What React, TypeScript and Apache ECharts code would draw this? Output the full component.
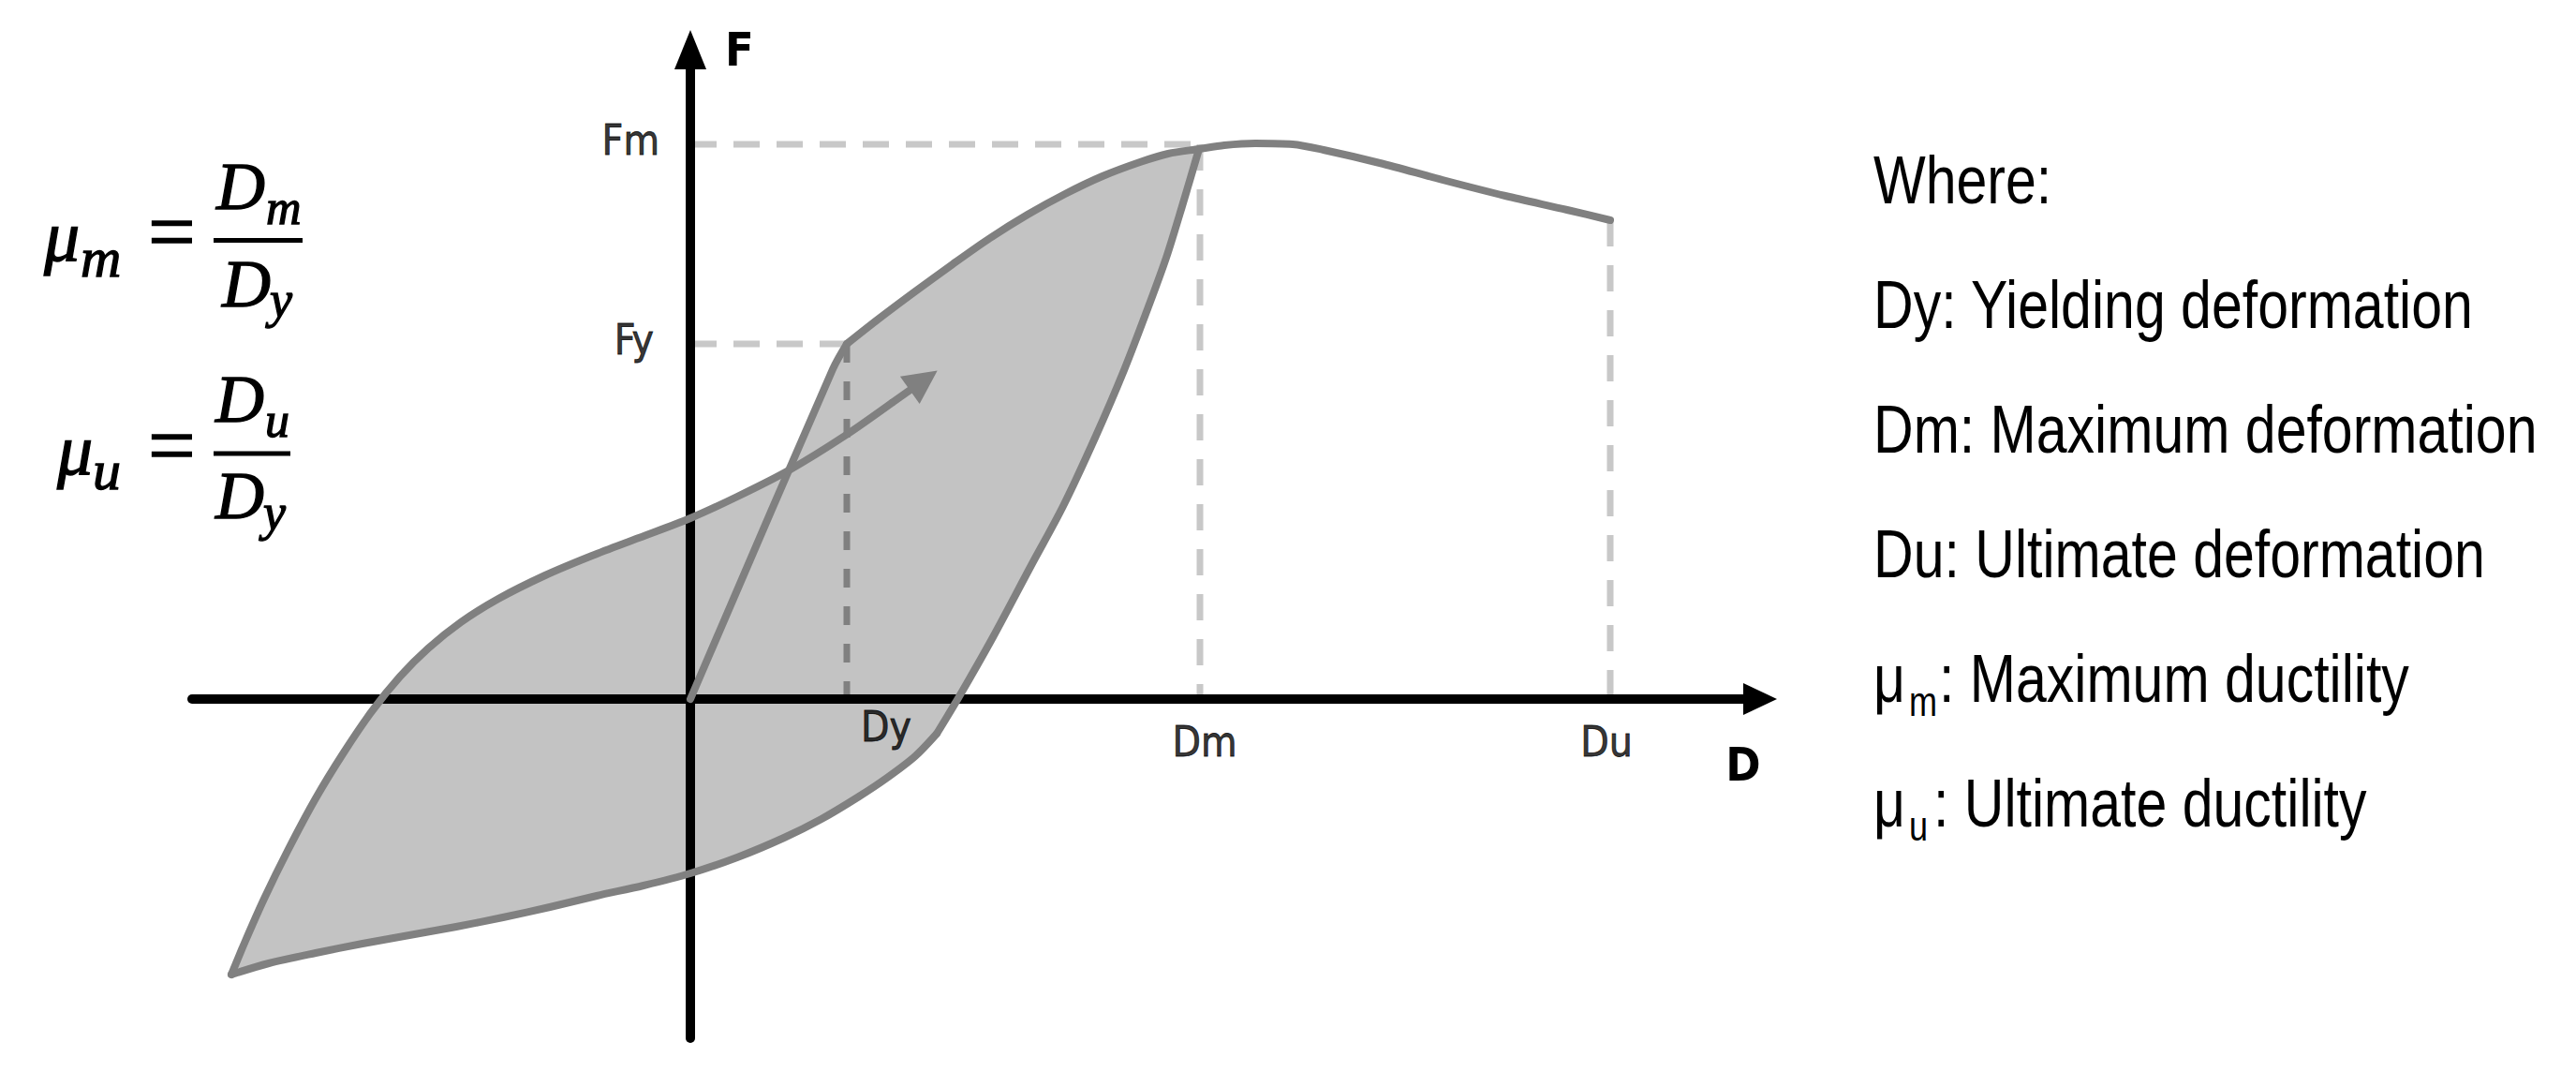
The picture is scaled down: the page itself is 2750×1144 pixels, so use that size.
import { useEffect, useRef } from 'react';
import * as echarts from 'echarts';

// ---- characteristic values (data units) ----
const Dy = 16.7;
const Dm = 54.4;
const Du = 98.2;
const Fy = 37.9;
const Fm = 59.2;

const xTickValues = [Dy, Dm, Du];
const xTickLabels = ['Dy', 'Dm', 'Du'];
const yTickValues = [Fy, Fm];
const yTickLabels = ['Fy', 'Fm'];

// ---- hysteresis curve branches [D, F] ----
const loadingBranch = [[0, 0], [15.2, 35.2], [16.7, 37.9]];
const backbone = [
  [16.7, 37.9], [20.0, 40.5], [24.0, 43.5], [28.0, 46.4], [32.0, 49.2], [36.0, 51.7],
  [40.0, 53.9], [44.0, 55.8], [48.0, 57.3], [51.0, 58.2], [54.3, 58.7], [57.0, 59.1],
  [60.3, 59.3], [64.3, 59.2], [67.6, 58.6], [73.6, 57.2], [80.3, 55.4], [87.0, 53.7],
  [93.6, 52.2], [98.2, 51.1],
];
const unloadingBranch = [
  [54.3, 58.7], [52.5, 52.6], [50.8, 47.1], [48.8, 41.6], [46.3, 35.1], [43.3, 28.1],
  [39.8, 20.6], [36.3, 14.1], [32.3, 6.6], [28.6, 0.1], [26.3, -3.7],
];
const lowerBranch = [
  [26.3, -3.7], [24.0, -6.1], [21.0, -8.4], [18.0, -10.4], [14.0, -12.8], [10.0, -14.8],
  [5.0, -16.9], [0, -18.6], [-5.0, -19.9], [-10.0, -21.0], [-15.0, -22.2], [-20.0, -23.3],
  [-25.0, -24.3], [-30.0, -25.2], [-35.0, -26.1], [-40.0, -27.1], [-45.0, -28.2], [-49.0, -29.4],
];
const reloadBranch = [
  [-49.0, -29.4], [-47.5, -25.8], [-45.5, -21.3], [-43.0, -16.2], [-40.0, -10.6], [-37.0, -5.7],
  [-34.0, -1.3], [-31.0, 2.4], [-28.0, 5.4], [-24.5, 8.2], [-20.5, 10.7], [-15.5, 13.2],
  [-10.5, 15.3], [-5.5, 17.2], [0, 19.3], [5.0, 21.6], [10.5, 24.4], [16.5, 28.1], [21.5, 31.6],
];
const arrowSegment = [[21.5, 31.6], [24.9, 34.0]];

// reference lines
const fmGuide = [[0, Fm], [Dm, Fm]];
const dmGuide = [[Dm, Fm], [Dm, 0]];
const fyGuide = [[0, Fy], [Dy, Fy]];
const dyGuide = [[Dy, Fy], [Dy, 0]];
const duGuide = [[Du, 51.1], [Du, 0]];

// legend text
const legendLines = ['Where:', 'Dy: Yielding deformation', 'Dm: Maximum deformation', 'Du: Ultimate deformation'];

const loopOutline = [
  ...reloadBranch.slice(0, 17),
  ...loadingBranch.slice(1),
  ...backbone.slice(1, 11),
  ...unloadingBranch.slice(1),
  ...lowerBranch.slice(1, -1),
];

const STROKE = '#808080';
const LIGHT = '#c8c8c8';
const NARROW = "'Liberation Sans Narrow', 'DejaVu Sans Condensed', 'Liberation Sans', sans-serif";
const SERIF = "'Liberation Serif', 'Times New Roman', serif";
const SANS = "'Liberation Sans', Arial, sans-serif";

// label placement styles (not data)
const xLabelOffsets = [[42, 0], [5, 16], [-4, 16]];
const yLabelOffsets = [[-6, -5], [0, -5]];

function mathText(text: string, x: number, y: number, size: number, italic = true) {
  return {
    type: 'text',
    x,
    y,
    z: 10,
    style: {
      text,
      fontFamily: SERIF,
      fontSize: size,
      fontStyle: italic ? 'italic' : 'normal',
      fill: '#000',
      stroke: '#000',
      lineWidth: 1.3,
      align: 'left',
      verticalAlign: 'middle',
    },
  };
}

function sansText(text: string, x: number, y: number, size: number) {
  return {
    type: 'text',
    x,
    y,
    scaleX: 0.82,
    z: 10,
    style: {
      text,
      fontFamily: SANS,
      fontSize: size,
      fill: '#000',
      align: 'left',
      verticalAlign: 'middle',
    },
  };
}

export default function App() {
  const ref = useRef<HTMLDivElement>(null);

  useEffect(() => {
    if (!ref.current) return;
    const chart = echarts.init(ref.current, undefined, { renderer: 'svg' });

    const strokeLine = (data: number[][], name: string) => ({
      type: 'line',
      name,
      data,
      z: 3,
      showSymbol: false,
      symbol: 'none',
      smooth: 0.3,
      lineStyle: { color: STROKE, width: 8, cap: 'round', join: 'round' },
      silent: true,
    });
    const guideLine = (data: number[][], color: string, dash: number[]) => ({
      type: 'line',
      data,
      z: 1.5,
      showSymbol: false,
      symbol: 'none',
      lineStyle: { color, width: 7, type: dash },
      silent: true,
    });

    const legendBaselines = [217, 350, 483, 616];
    const graphics: any[] = [];
    legendLines.forEach((t, i) => graphics.push(sansText(t, 2000, legendBaselines[i] - 25, 72)));
    // mu_m line
    graphics.push(sansText('μ', 2000, 749 - 25, 72));
    graphics.push(sansText('m', 2038, 764 - 15, 44));
    graphics.push(sansText(': Maximum ductility', 2070, 749 - 25, 72));
    // mu_u line
    graphics.push(sansText('μ', 2000, 882 - 25, 72));
    graphics.push(sansText('u', 2038, 897 - 15, 44));
    graphics.push(sansText(': Ultimate ductility', 2064, 882 - 25, 72));

    // formula 1: mu_m = Dm / Dy
    graphics.push(mathText('μ', 47, 252, 76));
    graphics.push(mathText('m', 86, 275, 60));
    graphics.push(mathText('=', 158, 247, 90, false));
    graphics.push({ type: 'rect', z: 10, shape: { x: 228, y: 254, width: 95, height: 5 }, style: { fill: '#000' } });
    graphics.push(mathText('D', 231, 199, 72));
    graphics.push(mathText('m', 284, 221, 52));
    graphics.push(mathText('D', 237, 303, 72));
    graphics.push(mathText('y', 288, 320, 54));
    // formula 2: mu_u = Du / Dy
    graphics.push(mathText('μ', 61, 480, 76));
    graphics.push(mathText('u', 99, 502, 60));
    graphics.push(mathText('=', 158, 475, 90, false));
    graphics.push({ type: 'rect', z: 10, shape: { x: 228, y: 481.5, width: 82, height: 5 }, style: { fill: '#000' } });
    graphics.push(mathText('D', 230, 426, 72));
    graphics.push(mathText('u', 283, 448, 52));
    graphics.push(mathText('D', 230, 529, 72));
    graphics.push(mathText('y', 281, 547, 54));

    const tickLabelStyle = {
      show: true,
      fontFamily: NARROW,
      fontSize: 44,
      color: '#000',
      textBorderColor: '#000',
      textBorderWidth: 0.8,
      formatter: '{b}',
    };

    chart.setOption({
      animation: false,
      backgroundColor: '#ffffff',
      grid: { left: 205, top: 53, width: 1674, height: 1055, containLabel: false, outerBoundsMode: 'none' },
      xAxis: {
        type: 'value',
        min: -53.2,
        max: 114.2,
        z: 2,
        splitLine: { show: false },
        axisTick: { show: false },
        axisLabel: { show: false },
        axisLine: {
          onZero: true,
          symbol: ['none', 'triangle'],
          symbolSize: [34, 36],
          lineStyle: { color: '#000', width: 10 },
        },
        name: 'D',
        nameLocation: 'end',
        nameGap: -18,
        nameTextStyle: {
          fontFamily: NARROW,
          fontSize: 50,
          fontWeight: 'bold',
          color: '#000',
          align: 'center',
          verticalAlign: 'top',
          padding: [45, 0, 0, 0],
        },
      },
      yAxis: {
        type: 'value',
        min: -36.2,
        max: 69.3,
        z: 2,
        splitLine: { show: false },
        axisTick: { show: false },
        axisLabel: { show: false },
        axisLine: {
          onZero: true,
          symbol: ['none', 'triangle'],
          symbolSize: [34, 42],
          lineStyle: { color: '#000', width: 10 },
        },
        name: 'F',
        nameLocation: 'end',
        nameGap: 0,
        nameTextStyle: {
          fontFamily: NARROW,
          fontSize: 50,
          fontWeight: 'bold',
          color: '#000',
          align: 'left',
          verticalAlign: 'middle',
          padding: [0, 0, 0, 37],
        },
      },
      graphic: graphics,
      series: [
        {
          type: 'custom',
          z: 1,
          silent: true,
          data: loopOutline,
          encode: { x: 0, y: 1 },
          renderItem: (params: any, api: any) => {
            if (params.dataIndex !== 0) return null;
            const pts = loopOutline.map((p) => api.coord(p));
            return { type: 'polygon', shape: { points: pts }, style: { fill: '#c3c3c3', stroke: 'none' } };
          },
        },
        guideLine(fmGuide, LIGHT, [28, 18]),
        guideLine(dmGuide, LIGHT, [28, 20]),
        guideLine(fyGuide, LIGHT, [28, 18]),
        guideLine(duGuide, LIGHT, [28, 20]),
        guideLine(dyGuide, STROKE, [20, 20]),
        strokeLine(loadingBranch, 'loading'),
        strokeLine(backbone, 'backbone'),
        strokeLine(unloadingBranch, 'unloading'),
        strokeLine(lowerBranch, 'lower'),
        strokeLine(reloadBranch, 'reload'),
        {
          type: 'lines',
          coordinateSystem: 'cartesian2d',
          z: 3,
          silent: true,
          symbol: ['none', 'triangle'],
          symbolSize: [32, 36],
          lineStyle: { color: STROKE, width: 8, opacity: 1 },
          data: [{ coords: arrowSegment }],
        },
        {
          type: 'scatter',
          name: 'D ticks',
          z: 4,
          silent: true,
          symbolSize: 0.1,
          itemStyle: { color: 'rgba(0,0,0,0)' },
          label: { ...tickLabelStyle, position: 'bottom', distance: 7 },
          data: xTickValues.map((v, i) => ({
            value: [v, 0],
            name: xTickLabels[i],
            label: { offset: xLabelOffsets[i] },
          })),
        },
        {
          type: 'scatter',
          name: 'F ticks',
          z: 4,
          silent: true,
          symbolSize: 0.1,
          itemStyle: { color: 'rgba(0,0,0,0)' },
          label: { ...tickLabelStyle, position: 'left', distance: 33 },
          data: yTickValues.map((v, i) => ({
            value: [0, v],
            name: yTickLabels[i],
            label: { offset: yLabelOffsets[i] },
          })),
        },
      ],
    });

    return () => chart.dispose();
  }, []);

  return (
    <div
      ref={ref}
      style={{ position: 'absolute', left: 0, top: 0, width: 2750, height: 1144, background: '#fff' }}
    />
  );
}
